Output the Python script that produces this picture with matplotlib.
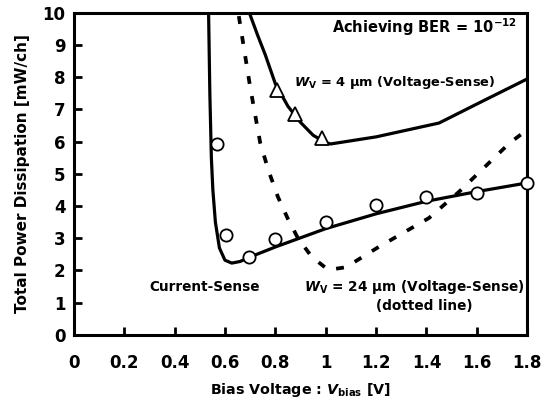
import numpy as np
import matplotlib
matplotlib.use("Agg")
import matplotlib.pyplot as plt

plt.rcParams['font.family'] = ['DejaVu Sans']
plt.rcParams['font.weight'] = 'bold'
plt.rcParams['mathtext.fontset'] = 'custom'
plt.rcParams['mathtext.rm'] = 'DejaVu Sans:bold'
plt.rcParams['mathtext.it'] = 'DejaVu Sans:bold:italic'
plt.rcParams['mathtext.bf'] = 'DejaVu Sans:bold'

# current-sense curve (solid) and measured points (circles)
cs_x = [0.535, 0.540, 0.546, 0.552, 0.562, 0.578, 0.60, 0.627, 0.66, 0.70, 0.80, 1.0, 1.2, 1.4, 1.6, 1.8]
cs_y = [10.0, 7.5, 5.5, 4.5, 3.5, 2.70, 2.32, 2.23, 2.28, 2.42, 2.73, 3.30, 3.76, 4.15, 4.45, 4.72]
cs_pts_x = [0.567, 0.604, 0.697, 0.797, 1.0, 1.2, 1.4, 1.6, 1.8]
cs_pts_y = [5.92, 3.10, 2.43, 2.98, 3.50, 4.02, 4.28, 4.40, 4.72]

# Wv = 4 um voltage-sense (solid) and triangles
v4_x = [0.697, 0.73, 0.76, 0.80, 0.85, 0.90, 0.95, 1.0, 1.02, 1.2, 1.45, 1.6, 1.7, 1.8]
v4_y = [10.0, 9.3, 8.7, 7.8, 7.1, 6.6, 6.2, 5.97, 5.93, 6.15, 6.58, 7.17, 7.56, 7.95]
v4_pts_x = [0.805, 0.88, 0.985]
v4_pts_y = [7.60, 6.86, 6.12]

# Wv = 24 um voltage-sense (dotted)
v24_x = [0.655, 0.70, 0.74, 0.773, 0.81, 0.85, 0.89, 0.945, 1.01, 1.08, 1.21, 1.41, 1.53, 1.73, 1.8]
v24_y = [9.9, 7.7, 5.96, 5.1, 4.29, 3.6, 3.0, 2.42, 2.02, 2.1, 2.73, 3.63, 4.45, 5.96, 6.37]

fig = plt.figure(figsize=(5.55, 4.03), dpi=100)
ax = fig.add_axes([0.133, 0.169, 0.817, 0.799])

lw = 2.3
ax.plot(cs_x, cs_y, color='black', lw=lw)
ax.plot(v4_x, v4_y, color='black', lw=lw)
ax.plot(v24_x, v24_y, color='black', lw=2.7, linestyle=(0, (2.1, 3.3)))
ax.plot(cs_pts_x, cs_pts_y, 'o', ms=8.8, mfc='white', mec='black', mew=1.3, clip_on=False, zorder=3)
ax.plot(v4_pts_x, v4_pts_y, '^', ms=10, mfc='white', mec='black', mew=1.3, zorder=3)

ax.set_xlim(0, 1.8)
ax.set_ylim(0, 10)
ax.set_xticks(np.arange(0, 1.81, 0.2))
ax.set_xticklabels(['0', '0.2', '0.4', '0.6', '0.8', '1', '1.2', '1.4', '1.6', '1.8'])
ax.set_yticks(range(0, 11))
ax.tick_params(direction='in', length=6, width=2, labelsize=12)
ax.tick_params(axis='x', pad=14)
ax.tick_params(axis='y', pad=6)
for s in ax.spines.values():
    s.set_linewidth(2.2)

ax.set_xlabel('Bias Voltage : $\\mathit{V}_{\\mathrm{bias}}$ [V]', fontsize=10.3, fontweight='bold', labelpad=6)
ax.set_ylabel('Total Power Dissipation [mW/ch]', fontsize=11, fontweight='bold', labelpad=9)

ax.text(1.76, 9.55, 'Achieving BER = 10$^{\\mathrm{-12}}$', fontsize=10.5, fontweight='bold', ha='right', va='center')
ax.text(0.875, 7.85, '$\\mathit{W}_{\\mathrm{V}}$ = 4 \u00b5m (Voltage-Sense)', fontsize=9.4, fontweight='bold', ha='left', va='center')
ax.text(0.3, 1.5, 'Current-Sense', fontsize=9.8, fontweight='bold', ha='left', va='center')
ax.text(1.79, 1.48, '$\\mathit{W}_{\\mathrm{V}}$ = 24 \u00b5m (Voltage-Sense)', fontsize=9.8, fontweight='bold', ha='right', va='center')
ax.text(1.39, 0.9, '(dotted line)', fontsize=9.8, fontweight='bold', ha='center', va='center')

fig.savefig('out.png', dpi=100)
